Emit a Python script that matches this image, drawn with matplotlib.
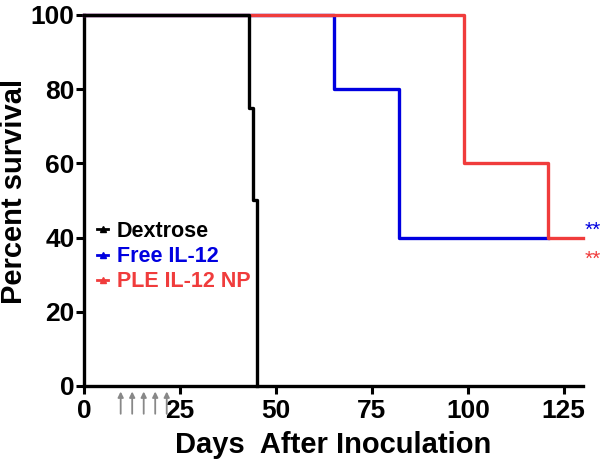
import matplotlib.pyplot as plt
from matplotlib.lines import Line2D

plt.rcParams['font.family'] = ['Liberation Sans', 'DejaVu Sans']
plt.rcParams['font.weight'] = 'bold'

# survival step data (days, percent)
dex_days = [0, 43, 44, 45]
dex_surv = [100, 75, 50, 0]
free_days = [0, 65, 82, 121]
free_surv = [100, 80, 40, 40]
ple_days = [0, 99, 121, 130]
ple_surv = [100, 60, 40, 40]

dose_days = [9.5, 12.5, 15.5, 18.5, 21.5]

names = ['Dextrose', 'Free IL-12', 'PLE IL-12 NP']
colors = ['black', '#0000e0', '#f03c3c']

fig = plt.figure(figsize=(6.06, 4.65), dpi=100)
ax = fig.add_axes([0.139, 0.170, 0.823, 0.798])

lw = 2.4
ax.step(free_days, free_surv, where='post', color=colors[1], lw=lw, zorder=3, clip_on=False)
ax.step(ple_days, ple_surv, where='post', color=colors[2], lw=lw, zorder=4, clip_on=False)
ax.step(dex_days, dex_surv, where='post', color=colors[0], lw=lw, zorder=5, clip_on=False)

# dosing arrows under the x axis
for d in dose_days:
    ax.annotate('', xy=(d, -1.5), xytext=(d, -7.5), annotation_clip=False,
                arrowprops=dict(arrowstyle='-|>', color='#888888', lw=1.3,
                                mutation_scale=8, shrinkA=0, shrinkB=0))

# significance marks
ax.text(130.5, 42, '**', color=colors[1], fontsize=15, fontweight='normal', ha='left', va='center')
ax.text(130.5, 34, '**', color=colors[2], fontsize=15, fontweight='normal', ha='left', va='center')

ax.set_xlim(0, 130)
ax.set_ylim(0, 100)
ax.set_xticks([0, 25, 50, 75, 100, 125])
ax.set_yticks([0, 20, 40, 60, 80, 100])
ax.tick_params(labelsize=19, width=2.2, length=6, direction='out')
ax.tick_params(axis='y', pad=1)
for lab in ax.get_xticklabels() + ax.get_yticklabels():
    lab.set_fontweight('bold')
for s in ['top', 'right']:
    ax.spines[s].set_visible(False)
for s in ['left', 'bottom']:
    ax.spines[s].set_linewidth(2.4)

ax.set_xlabel('Days  After Inoculation', fontsize=21, fontweight='bold', labelpad=6)
ax.set_ylabel('Percent survival', fontsize=21, fontweight='bold')
ax.yaxis.set_label_coords(-0.112, 0.524)

handles = [Line2D([], [], color=c, lw=2, marker='^', markersize=4) for c in colors]
leg = ax.legend(handles, names, loc='upper left', bbox_to_anchor=(0.0, 0.48),
                frameon=False, fontsize=15.5, handlelength=0.5, handletextpad=0.4,
                labelspacing=0.2, borderaxespad=0.2)
for t, c in zip(leg.get_texts(), colors):
    t.set_color(c)
    t.set_fontweight('bold')

fig.savefig('out.png', dpi=100)
